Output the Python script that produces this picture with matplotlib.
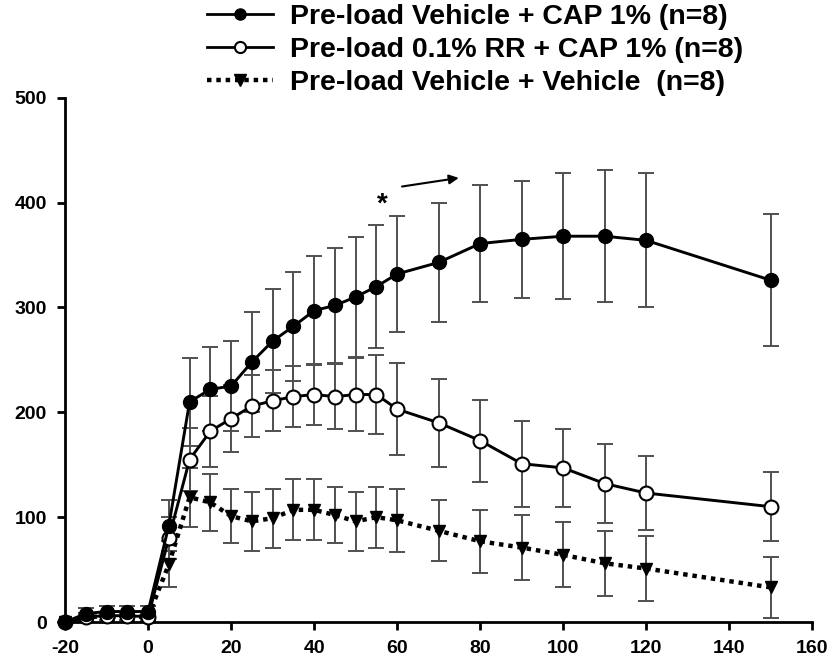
import matplotlib
matplotlib.use('Agg')
import matplotlib.pyplot as plt
from matplotlib.lines import Line2D

plt.rcParams['font.family'] = ['Liberation Sans', 'DejaVu Sans']
plt.rcParams['font.weight'] = 'bold'
plt.rcParams['axes.unicode_minus'] = False

# time points (min)
time = [-20, -15, -10, -5, 0, 5, 10, 15, 20, 25, 30, 35, 40, 45, 50, 55, 60,
        70, 80, 90, 100, 110, 120, 150]

# Pre-load Vehicle + CAP 1%
cap_mean = [0, 8, 10, 10, 10, 92, 210, 222, 225, 248, 268, 282, 297, 302, 310,
            320, 332, 343, 361, 365, 368, 368, 364, 326]
cap_sem = [0, 5, 5, 5, 5, 24, 42, 40, 43, 48, 50, 52, 52, 55, 57, 59, 55, 57,
           56, 56, 60, 63, 64, 63]

# Pre-load 0.1% RR + CAP 1%
rr_mean = [0, 5, 6, 6, 5, 80, 155, 182, 194, 206, 211, 215, 217, 215, 217,
           217, 203, 190, 173, 151, 147, 132, 123, 110]
rr_sem = [0, 4, 4, 4, 4, 20, 30, 34, 32, 30, 29, 29, 29, 31, 35, 38, 44, 42,
          39, 41, 37, 38, 35, 33]

# Pre-load Vehicle + Vehicle
veh_mean = [0, 5, 5, 5, 5, 55, 119, 114, 101, 96, 99, 107, 107, 102, 96, 100,
            97, 87, 77, 71, 64, 56, 51, 33]
veh_sem = [0, 3, 3, 3, 3, 22, 28, 27, 26, 28, 28, 29, 29, 27, 28, 29, 30, 29,
           30, 31, 31, 31, 31, 29]

labels = ['Pre-load Vehicle + CAP 1% (n=8)',
          'Pre-load 0.1% RR + CAP 1% (n=8)',
          'Pre-load Vehicle + Vehicle  (n=8)']

fig = plt.figure(figsize=(8.34, 6.61), dpi=100)
ax = fig.add_axes([0.078, 0.059, 0.896, 0.793])

err_kw = dict(fmt='none', ecolor='#505050', elinewidth=1.4, capsize=6,
              capthick=1.4, zorder=2, clip_on=False)
ax.errorbar(time, cap_mean, yerr=cap_sem, **err_kw)
ax.errorbar(time, rr_mean, yerr=rr_sem, **err_kw)
ax.errorbar(time, veh_mean, yerr=veh_sem, **err_kw)

ax.plot(time, veh_mean, color='black', ls=(0, (1, 1.1)), lw=3.2, marker='v',
        ms=9, mfc='black', mec='black', zorder=3, clip_on=False)
ax.plot(time, rr_mean, color='black', ls='-', lw=2.1, marker='o', ms=10,
        mfc='white', mec='black', mew=1.5, zorder=4, clip_on=False)
ax.plot(time, cap_mean, color='black', ls='-', lw=2.1, marker='o', ms=10,
        mfc='black', mec='black', zorder=5, clip_on=False)

ax.set_xlim(-20, 160)
ax.set_ylim(0, 500)
ax.set_xticks(range(-20, 161, 20))
ax.set_yticks(range(0, 501, 100))
for s in ['top', 'right']:
    ax.spines[s].set_visible(False)
for s in ['left', 'bottom']:
    ax.spines[s].set_linewidth(2)
ax.tick_params(axis='both', direction='out', length=6, width=2,
               labelsize=14, pad=7)
for lab in ax.get_xticklabels() + ax.get_yticklabels():
    lab.set_fontweight('bold')

# significance marker
ax.text(56.5, 398, '*', fontsize=20, ha='center', va='center', fontweight='bold')
ax.annotate('', xy=(75.5, 424), xytext=(60.5, 415),
            arrowprops=dict(arrowstyle='-|>', color='black', lw=1.5,
                            mutation_scale=14))

handles = [
    Line2D([], [], color='black', lw=2, marker='o', ms=8, mfc='black'),
    Line2D([], [], color='black', lw=2, marker='o', ms=8, mfc='white',
           mew=1.5),
    Line2D([], [], color='black', ls=(0, (1, 1.1)), lw=3.2, marker='v', ms=8),
]
leg = fig.legend(handles, labels, loc='upper left',
                 bbox_to_anchor=(0.228, 1.02), frameon=False,
                 prop=dict(size=20.5, weight='bold'), handlelength=2.3,
                 handletextpad=0.6, labelspacing=0.25, borderpad=0.1)

fig.savefig('out.png', dpi=100)
